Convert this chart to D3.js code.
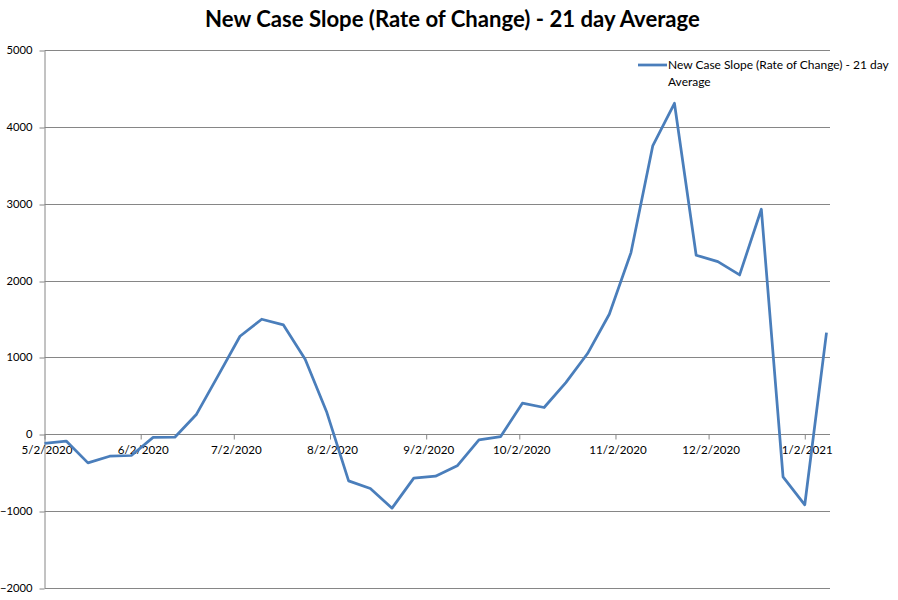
<!DOCTYPE html>
<html>
<head>
<meta charset="utf-8">
<script src="https://cdn.jsdelivr.net/npm/d3@7"></script>
<style>
  html, body { margin: 0; padding: 0; background: #fff; }
  svg { display: block; font-family: Lato, "Open Sans", sans-serif; }
</style>
</head>
<body>
<svg id="chart" width="898" height="600"></svg>
<script>
// ---- data ----
const title = "New Case Slope (Rate of Change) - 21 day Average";
const seriesName = "New Case Slope (Rate of Change) - 21 day Average";
const dates = [
  "5/2/2020","5/9/2020","5/16/2020","5/23/2020","5/30/2020",
  "6/6/2020","6/13/2020","6/20/2020","6/27/2020",
  "7/4/2020","7/11/2020","7/18/2020","7/25/2020",
  "8/1/2020","8/8/2020","8/15/2020","8/22/2020","8/29/2020",
  "9/5/2020","9/12/2020","9/19/2020","9/26/2020",
  "10/3/2020","10/10/2020","10/17/2020","10/24/2020","10/31/2020",
  "11/7/2020","11/14/2020","11/21/2020","11/28/2020",
  "12/5/2020","12/12/2020","12/19/2020","12/26/2020",
  "1/2/2021","1/9/2021"
];
const values = [
  -120, -90, -374, -287, -278,
  -42, -40, 260, 765,
  1275, 1497, 1423, 975,
  281, -608, -708, -964, -573,
  -547, -412, -74, -31,
  404, 347, 672, 1050, 1562,
  2365, 3754, 4310, 2331,
  2248, 2074, 2930, -556,
  -920, 1323
];
const xTickLabels = ["5/2/2020","6/2/2020","7/2/2020","8/2/2020","9/2/2020","10/2/2020","11/2/2020","12/2/2020","1/2/2021"];
const yTicks = [-2000, -1000, 0, 1000, 2000, 3000, 4000, 5000];

// ---- layout ----
const svg = d3.select("#chart");
const parse = d3.timeParse("%-m/%-d/%Y");
const plot = { left: 44.5, right: 830, top: 50.3, bottom: 587.7 };

const x = d3.scaleTime()
  .domain([parse(dates[0]), parse(dates[dates.length - 1])])
  .range([plot.left, 826.5]);
const y = d3.scaleLinear().domain([-2000, 5000]).range([plot.bottom, plot.top]);

const gridColor = "#868686";

// gridlines
svg.append("g").selectAll("line").data(yTicks).join("line")
  .attr("x1", plot.left).attr("x2", plot.right)
  .attr("y1", d => Math.round(y(d)) + 0.5).attr("y2", d => Math.round(y(d)) + 0.5)
  .attr("stroke", gridColor).attr("stroke-width", 1);

// y axis
const yAxis = svg.append("g")
  .attr("transform", `translate(${plot.left},0)`)
  .call(d3.axisLeft(y).tickValues(yTicks).tickSize(5).tickSizeOuter(0).tickPadding(7).tickFormat(d3.format("d")));
yAxis.select(".domain").attr("stroke", gridColor);
yAxis.selectAll(".tick line").attr("stroke", gridColor)
  .attr("transform", function(d){ return `translate(0,${Math.round(y(d)) + 0.5 - y(d)})`; });
yAxis.selectAll("text").attr("font-size", 11.2).attr("fill", "#000")
  .attr("font-family", "Lato, 'Open Sans', sans-serif");

// x axis at zero
const xAxis = svg.append("g")
  .attr("transform", `translate(0,${Math.round(y(0)) + 0.5})`)
  .call(d3.axisBottom(x)
    .tickValues(xTickLabels.map(parse))
    .tickFormat((d, i) => xTickLabels[i])
    .tickSize(5).tickSizeOuter(0).tickPadding(6));
xAxis.select(".domain").remove();
xAxis.selectAll(".tick line").attr("stroke", gridColor);
xAxis.selectAll("text").attr("font-size", 11.6).attr("fill", "#000")
  .attr("font-family", "Lato, 'Open Sans', sans-serif")
  .attr("dx", 2);

// line
const data = dates.map((d, i) => ({ date: parse(d), value: values[i] }));
svg.append("path")
  .datum(data)
  .attr("fill", "none")
  .attr("stroke", "#4A7EBB")
  .attr("stroke-width", 2.75)
  .attr("stroke-linejoin", "round")
  .attr("d", d3.line().x(d => x(d.date)).y(d => y(d.value)));

// title
const t = svg.append("text")
  .attr("x", 452.5).attr("y", 27)
  .attr("text-anchor", "middle")
  .attr("font-weight", "bold")
  .attr("font-size", 22)
  .attr("fill", "#000")
  .text(title);
const tw = t.node().getComputedTextLength();
t.attr("font-size", 22 * 495 / tw);

// legend
const lg = svg.append("g");
lg.append("line")
  .attr("x1", 638).attr("x2", 667).attr("y1", 65).attr("y2", 65)
  .attr("stroke", "#4A7EBB").attr("stroke-width", 2.75);
const words = seriesName.split(" ");
const line1 = words.slice(0, words.length - 1).join(" ");
const line2 = words[words.length - 1];
const l1 = lg.append("text").attr("x", 668).attr("y", 69)
  .attr("font-size", 11.6).attr("fill", "#000").text(line1);
const lw = l1.node().getComputedTextLength();
const lfs = 11.6 * 221 / lw;
l1.attr("font-size", lfs);
lg.append("text").attr("x", 668).attr("y", 86)
  .attr("font-size", lfs).attr("fill", "#000").text(line2);
</script>
</body>
</html>
